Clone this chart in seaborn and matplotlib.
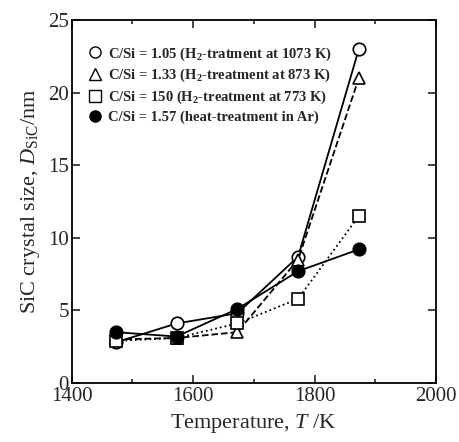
import matplotlib
matplotlib.use("Agg")
import matplotlib.pyplot as plt
import seaborn as sns
import pandas as pd
from matplotlib.ticker import MultipleLocator

temps = [1473, 1573, 1673, 1773, 1873]
s105 = [2.8, 4.1, 4.8, 8.7, 23.0]
s133 = [3.0, 3.1, 3.5, 8.5, 21.0]
s150 = [2.9, 3.1, 4.1, 5.8, 11.5]
s157 = [3.5, 3.2, 5.1, 7.7, 9.2]
labels = [
    r"C/Si = 1.05 (H$_\mathbf{2}$-tratment at 1073 K)",
    r"C/Si = 1.33 (H$_\mathbf{2}$-treatment at 873 K)",
    r"C/Si = 150 (H$_\mathbf{2}$-treatment at 773 K)",
    "C/Si = 1.57 (heat-treatment in Ar)",
]

sns.set_theme(style="ticks")
plt.rcParams['font.family'] = ['Liberation Serif', 'DejaVu Serif']
plt.rcParams['mathtext.fontset'] = 'custom'
plt.rcParams['mathtext.rm'] = 'Liberation Serif'
plt.rcParams['mathtext.it'] = 'Liberation Serif:italic'
plt.rcParams['mathtext.bf'] = 'Liberation Serif:bold'

fig = plt.figure(figsize=(4.59, 4.42), dpi=100)
ax = fig.add_axes([71.5/459, 1 - 383/442, (436-71.5)/459, (383-20)/442])

series = [s105, s133, s150, s157]
styles = [
    dict(marker='o', ls='-', mfc='white'),
    dict(marker='^', ls='--', mfc='white'),
    dict(marker='s', ls=':', mfc='white'),
    dict(marker='o', ls='-', mfc='black'),
]
handles = []
for vals, st, lab in zip(series, styles, labels):
    df = pd.DataFrame({"T": temps, "D": vals})
    sns.lineplot(data=df, x="T", y="D", ax=ax, color='black', linewidth=1.3,
                 linestyle=st['ls'], marker=st['marker'], markersize=9,
                 markerfacecolor=st['mfc'], markeredgecolor='black',
                 markeredgewidth=1.2)
    h, = ax.plot([], [], ls='none', marker=st['marker'], markersize=8,
                 markerfacecolor=st['mfc'], markeredgecolor='black',
                 markeredgewidth=1.0, label=lab)
    handles.append(h)

ax.set_xlim(1400, 2000)
ax.set_ylim(0, 25)
ax.xaxis.set_major_locator(MultipleLocator(200))
ax.xaxis.set_minor_locator(MultipleLocator(100))
ax.yaxis.set_major_locator(MultipleLocator(5))
ax.tick_params(which='both', direction='in', top=True, right=True, labelsize=15, width=1.2)
ax.tick_params(which='major', length=6)
ax.tick_params(which='minor', length=3)
ax.tick_params(axis='x', pad=3)
ax.tick_params(axis='y', pad=2)
for sp in ax.spines.values():
    sp.set_linewidth(1.3)
    sp.set_color('black')

ax.set_xlabel(r"Temperature, $\it{T}$ /K", fontsize=16, labelpad=4)
ax.set_ylabel(r"SiC crystal size, $\it{D}_{\rm SiC}$/nm", fontsize=16, labelpad=4)

leg = ax.legend(handles=handles, loc='upper left', bbox_to_anchor=(0.045, 0.93),
                frameon=False, prop={'weight': 'bold', 'size': 10.5},
                handletextpad=0.35, labelspacing=0.3, handlelength=1.0,
                borderaxespad=0, borderpad=0)

fig.savefig("out.png", dpi=100)
